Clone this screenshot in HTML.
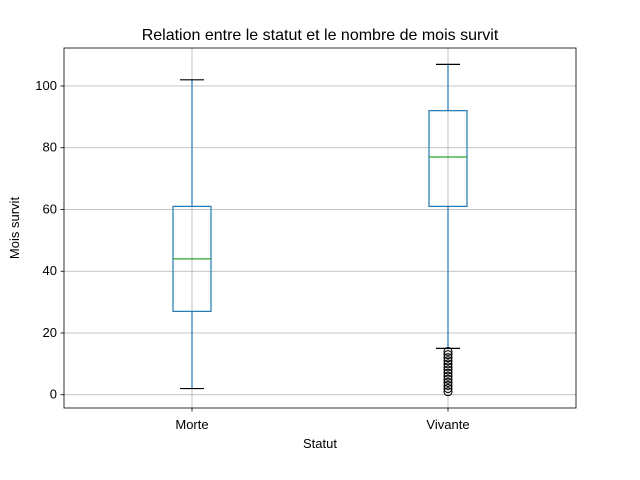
<!DOCTYPE html>
<html><head><meta charset="utf-8"><style>body{margin:0;background:#fff}svg{display:block;font-family:"Liberation Sans","DejaVu Sans",sans-serif}</style></head>
<body>
<svg id="chart" width="640" height="480"></svg>
<script>
const categories=["Morte","Vivante"];
const whiskerLow=[2,15];
const q1=[27,61];
const medians=[44,77];
const q3=[61,92];
const whiskerHigh=[102,107];
const outliersVivante=[1,2,3,4,5,6,7,8,9,10,11,12,13,14];
const outliers=[[],outliersVivante];
const yTicks=[0,20,40,60,80,100];
const NS="http://www.w3.org/2000/svg";
const svg=document.getElementById('chart');
const L=64,R=576,T=48,B=408,ymin=-4.3,ymax=112.3;
const y=v=>B-(v-ymin)/(ymax-ymin)*(B-T);
const x=i=>L+(R-L)*(i+0.5)/categories.length;
function el(t,a,p){const e=document.createElementNS(NS,t);for(const k in a)e.setAttribute(k,a[k]);(p||svg).appendChild(e);return e;}
// grid
yTicks.forEach(v=>{const g=el('line',{x1:L,x2:R,y1:y(v),y2:y(v),stroke:'#b0b0b0','stroke-width':0.8});


const t=el('line',{x1:L-3.5,x2:L,y1:y(v),y2:y(v),stroke:'#000','stroke-width':0.8});
const lb=el('text',{x:L-7,y:y(v)+4,'text-anchor':'end','font-size':13});lb.textContent=v;

});
categories.forEach((c,i)=>{const cx=x(i);
const g=el('line',{x1:cx,x2:cx,y1:T,y2:B,stroke:'#b0b0b0','stroke-width':0.8});
el('line',{x1:cx,x2:cx,y1:B,y2:B+3.5,stroke:'#000','stroke-width':0.8});
const lb=el('text',{x:cx,y:B+21,'text-anchor':'middle','font-size':13});lb.textContent=c;


const grp=el('g',{});


const w=19,cap=12;
el('line',{x1:cx,x2:cx,y1:y(whiskerLow[i]),y2:y(q1[i]),stroke:'#1f77b4','stroke-width':1.2},grp);
el('line',{x1:cx,x2:cx,y1:y(q3[i]),y2:y(whiskerHigh[i]),stroke:'#1f77b4','stroke-width':1.2},grp);
el('line',{x1:cx-cap,x2:cx+cap,y1:y(whiskerLow[i]),y2:y(whiskerLow[i]),stroke:'#000','stroke-width':1.2},grp);
el('line',{x1:cx-cap,x2:cx+cap,y1:y(whiskerHigh[i]),y2:y(whiskerHigh[i]),stroke:'#000','stroke-width':1.2},grp);
el('rect',{x:cx-w,y:y(q3[i]),width:2*w,height:y(q1[i])-y(q3[i]),fill:'none',stroke:'#1f77b4','stroke-width':1.2},grp);
el('line',{x1:cx-w,x2:cx+w,y1:y(medians[i]),y2:y(medians[i]),stroke:'#2ca02c','stroke-width':1.2},grp);
outliers[i].forEach(v=>{const o=el('circle',{cx:cx,cy:y(v),r:4,fill:'none',stroke:'#000','stroke-width':1},grp);

});
});
const fr=el('rect',{x:L,y:T,width:R-L,height:B-T,fill:'none',stroke:'#000','stroke-width':0.8});


const ti=el('text',{x:320,y:40,'text-anchor':'middle','font-size':16});ti.textContent='Relation entre le statut et le nombre de mois survit';


const xl=el('text',{x:320,y:448,'text-anchor':'middle','font-size':13});xl.textContent='Statut';


const yl=el('text',{x:19,y:228,'text-anchor':'middle','font-size':13,transform:'rotate(-90 19 228)'});yl.textContent='Mois survit';


</script>
</body></html>
